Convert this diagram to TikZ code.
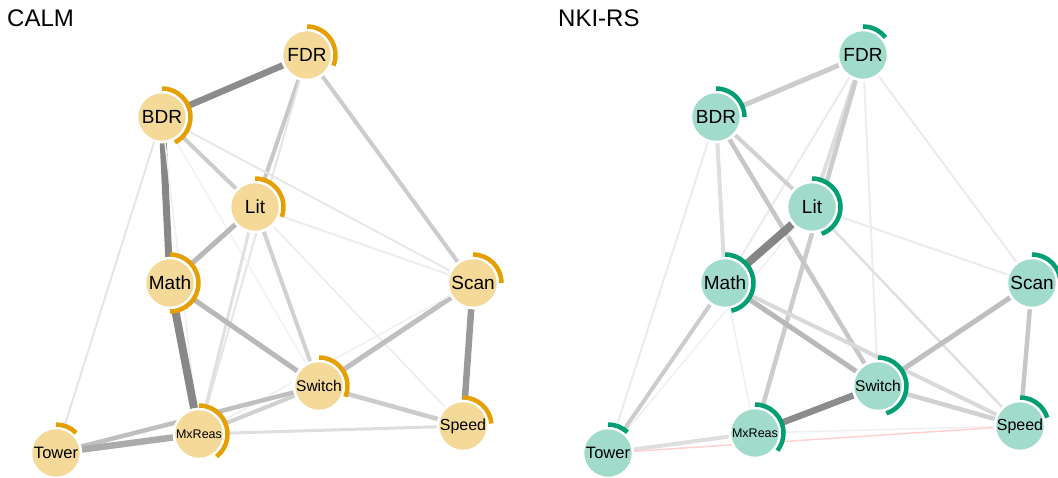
\documentclass[tikz,border=0pt]{standalone}
\usepackage{fontspec}
\setmainfont{Liberation Sans}
\usepackage{xcolor}
\usepackage{tikz}
\usetikzlibrary{backgrounds}
\usetikzlibrary{calc}
\definecolor{calmorange}{HTML}{E69F00}
\definecolor{nkigreen}{HTML}{009E73}
\tikzstyle{calmvertex}=[circle,fill=calmorange!40!white,draw=white,line width=2.5pt,minimum size=50pt,inner sep=0pt]
\tikzstyle{nkivertex}=[circle,fill=nkigreen!37!white,draw=white,line width=2.5pt,minimum size=50pt,inner sep=0pt]
\tikzstyle{undirectededge} = [draw,line cap=butt]
\tikzstyle{calmarc} = [draw=calmorange,line width=4.5pt]
\tikzstyle{nkiarc} = [draw=nkigreen,line width=4.5pt]
\tikzstyle{title} = [anchor=base west,font=\fontsize{24}{24}\selectfont,inner sep=0pt]

\begin{document}
\begin{tikzpicture}[x=1pt,y=1pt]

  \useasboundingbox (0,0) rectangle (1058,-478);

  % CALM
  \node[title] (calm) at (7,-27) {CALM};

   \foreach \x/\y/\name/\fs in {307/55/FDR/19, 162/117/BDR/19, 255/207/Lit/19, 170/283/Math/19, 473/283/Scan/19,
                                319/386/Switch/15.5, 463/426/Speed/16, 199/434/MxReas/12.5, 56/453/Tower/16.5}
          \node[calmvertex, font=\fontsize{\fs}{\fs}\selectfont] (c-\name) at (\x,-\y) {\name};

   \foreach \name/\span in {FDR/112, BDR/153, Lit/110, Math/180, Scan/90, Switch/112, Speed/85, MxReas/142, Tower/45}
          \draw[calmarc] ($(c-\name.center)+(90:28.5)$) arc[start angle=90, delta angle=-\span, radius=28.5];

  \begin{pgfonlayer}{background}
  \foreach \source/ \dest /\w/\g in {FDR/BDR/6.5/45, FDR/Lit/4/22, FDR/Scan/4/20, FDR/MxReas/2/10,
         BDR/Math/7/47, BDR/Lit/4/20, BDR/Scan/2/9, BDR/Tower/2/10, BDR/MxReas/1.5/6, BDR/Switch/1.5/5,
         Lit/Math/5/28, Lit/Switch/4/18, Lit/MxReas/3/12, Lit/Scan/2/7, Lit/Speed/1.5/8,
         Math/Switch/5/28, Math/MxReas/8/47, Scan/Switch/5/25, Scan/Speed/6.5/40, Scan/MxReas/1.5/6,
         Switch/Speed/4.5/20, Switch/MxReas/4/18, Switch/Tower/4.5/25, MxReas/Speed/3/13, MxReas/Tower/6.5/33}
         \path[undirectededge, line width=\w pt, draw=black!\g] (c-\source) -- (c-\dest);
  \end{pgfonlayer}

  % NKI-RS
  \node[title] (nki) at (558,-27) {NKI-RS};

   \foreach \x/\y/\name/\fs in {863/55/FDR/19, 716/117/BDR/19, 812/207/Lit/19, 725/283/Math/19, 1032/283/Scan/19,
                                878/386/Switch/15.5, 1020/426/Speed/16, 755/433/MxReas/12.5, 608/453/Tower/16.5}
          \node[nkivertex, font=\fontsize{\fs}{\fs}\selectfont] (n-\name) at (\x,-\y) {\name};

   \foreach \name/\span in {FDR/52, BDR/90, Lit/160, Math/167, Scan/90, Switch/163, Speed/73, MxReas/128, Tower/43}
          \draw[nkiarc] ($(n-\name.center)+(90:28.5)$) arc[start angle=90, delta angle=-\span, radius=28.5];

  \begin{pgfonlayer}{background}
  \foreach \source/ \dest /\w/\g in {FDR/BDR/5/20, FDR/Lit/4/13, FDR/MxReas/4.5/20, FDR/Math/2/8, FDR/Switch/2/7, FDR/Scan/2/8,
         BDR/Math/4/13, BDR/Lit/4/18, BDR/Switch/4.5/22, BDR/Tower/2/8,
         Lit/Math/8/48, Lit/Speed/2.5/12, Lit/Scan/2/8, Lit/Tower/1.5/6,
         Math/Switch/5/28, Math/Speed/4/15, Math/Tower/4/20, Math/MxReas/1.5/6,
         Scan/Switch/5/25, Scan/Speed/4.5/22, Switch/MxReas/6.5/45, Switch/Speed/4.5/18,
         MxReas/Tower/4/13, MxReas/Speed/1.5/6}
         \path[undirectededge, line width=\w pt, draw=black!\g] (n-\source) -- (n-\dest);
  \path[undirectededge, line width=1.5pt, draw=red!18] (n-Tower) -- (n-Speed);
  \end{pgfonlayer}

\end{tikzpicture}
\end{document}
